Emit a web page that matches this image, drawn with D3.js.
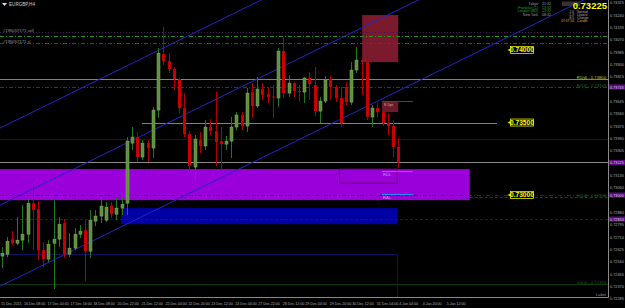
<!DOCTYPE html>
<html>
<head>
<meta charset="utf-8">
<script src="https://cdn.jsdelivr.net/npm/d3@7"></script>
<style>
  body { margin: 0; background: #000; }
  svg { display: block; font-family: "Liberation Sans", Arial, sans-serif; }
</style>
</head>
<body>
<svg id="chart"></svg>
<script>
// EURGBP H4 candles
const open = [0.72579,0.72592,0.72696,0.72668,0.72689,0.72730,0.72944,0.72903,0.72620,0.72558,
  0.72668,0.72696,0.72806,0.72592,0.72634,0.72730,0.72758,0.72613,0.72820,0.72855,
  0.72827,0.72924,0.72868,0.72910,0.72944,0.73358,0.73400,0.73262,0.73358,0.73324,
  0.73586,0.73972,0.73924,0.73869,0.73800,0.73600,0.73420,0.73193,0.73379,0.73338,
  0.73469,0.73441,0.73372,0.73351,0.73372,0.73469,0.73552,0.73476,0.73710,0.73614,
  0.73731,0.73696,0.73679,0.73669,0.73993,0.73703,0.73772,0.73717,0.73710,0.73807,
  0.73759,0.73579,0.73648,0.73800,0.73745,0.73669,0.73745,0.73641,0.73862,0.73931,
  0.73917,0.73538,0.73600,0.73572,0.73496,0.73476,0.73331];
const high = [0.72641,0.72710,0.72751,0.72848,0.72931,0.72972,0.73069,0.72958,0.72675,0.72689,
  0.72965,0.72848,0.72834,0.72737,0.72772,0.72793,0.72827,0.72896,0.72896,0.72986,
  0.72951,0.72951,0.72979,0.72986,0.73400,0.73469,0.73434,0.73379,0.73379,0.73607,
  0.74014,0.74159,0.73979,0.73883,0.73807,0.73703,0.73441,0.73414,0.73434,0.73517,
  0.73524,0.73710,0.73469,0.73407,0.73538,0.73572,0.73572,0.73738,0.73772,0.73814,
  0.73772,0.73745,0.73759,0.74014,0.74083,0.73828,0.73779,0.73759,0.73814,0.73848,
  0.73883,0.73676,0.73821,0.73821,0.73759,0.73745,0.73779,0.73917,0.74021,0.73938,
  0.73979,0.73621,0.73634,0.73641,0.73565,0.73517,0.73393];
const low = [0.72496,0.72572,0.72655,0.72655,0.72620,0.72668,0.72620,0.72551,0.72503,0.72537,
  0.72351,0.72641,0.72565,0.72572,0.72620,0.72703,0.72406,0.72565,0.72786,0.72806,
  0.72813,0.72841,0.72827,0.72862,0.72862,0.73310,0.73227,0.73241,0.73227,0.73255,
  0.73531,0.73897,0.73841,0.73724,0.73565,0.73400,0.73158,0.73103,0.73289,0.73310,
  0.73414,0.73200,0.73172,0.73310,0.73255,0.73448,0.73448,0.73434,0.73531,0.73600,
  0.73655,0.73634,0.73531,0.73607,0.73669,0.73676,0.73676,0.73641,0.73634,0.73655,
  0.73545,0.73496,0.73634,0.73655,0.73641,0.73469,0.73621,0.73621,0.73841,0.73690,
  0.73517,0.73469,0.73538,0.73476,0.73414,0.73262,0.73186];
const close = [0.72599,0.72682,0.72668,0.72689,0.72730,0.72944,0.72896,0.72620,0.72558,0.72661,
  0.72696,0.72799,0.72592,0.72634,0.72730,0.72751,0.72613,0.72827,0.72855,0.72924,
  0.72917,0.72868,0.72910,0.72937,0.73372,0.73400,0.73262,0.73358,0.73324,0.73586,
  0.73979,0.73924,0.73869,0.73800,0.73600,0.73420,0.73200,0.73386,0.73338,0.73469,
  0.73441,0.73365,0.73351,0.73372,0.73469,0.73552,0.73476,0.73703,0.73614,0.73731,
  0.73690,0.73676,0.73672,0.73993,0.73703,0.73772,0.73717,0.73710,0.73807,0.73765,
  0.73579,0.73648,0.73793,0.73745,0.73669,0.73496,0.73641,0.73862,0.73931,0.73917,
  0.73538,0.73600,0.73572,0.73496,0.73476,0.73331,0.73225];

// axis labels
const priceTicks = [0.74325,0.74240,0.74155,0.74070,0.73985,0.73900,0.73815,0.73730,0.73645,
  0.73560,0.73475,0.73390,0.73305,0.73220,0.73135,0.73050,0.72965,0.72880,0.72795,0.72710,
  0.72625,0.72540,0.72455,0.72370,0.72285];
const timeLabels = ["15 Dec 2015","16 Dec 08:00","17 Dec 00:00","17 Dec 16:00","18 Dec 08:00",
  "20 Dec 22:00","21 Dec 12:00","22 Dec 04:00","22 Dec 20:00","23 Dec 12:00","24 Dec 04:00",
  "27 Dec 22:00","28 Dec 12:00","29 Dec 04:00","29 Dec 20:00","30 Dec 12:00","31 Dec 04:00",
  "4 Jan 04:00","4 Jan 20:00","5 Jan 12:00"];
const timeTickBars = [0,4.4,8.9,13.3,17.7,22.3,26.9,31.5,35.9,40.3,44.9,49.3,54,58.3,63,67.3,72,76.3,80.8,85.4];

// objects on the chart (bar index / price)
const channelStart = [0.73467, 0.72935, 0.72376];   // at bar 0
const channelEnd = [0.74808, 0.74277, 0.73718];     // at bar 76
const orderLevels = [0.74124, 0.74097, 0.74048];
const orderLabels = ["#195057171 sell", "#195057171 sl"];
const roundLevels = [0.74000, 0.73500, 0.73000];
const pivotLevels = [0.73800, 0.73745, 0.72986, 0.72385];
const pivotLabels = ["R1(d) - 0.73800", "R2(4) - 0.73745", "S1(d) - 0.72990", "S3(d) - 0.72390"];
const markedLevels = [0.73745, 0.73225, 0.73000, 0.72834];
const bid = 0.73225;
const purpleZone = [0.73179, 0.72965];
const blueZone = [0.72910, 0.72799];
const redZone = [0.74241, 0.73917];
const smallRedZone = [0.73648, 0.73572];
const innerZone = [0.73179, 0.73082];
const zoneLines = [0.73165, 0.73006];
const zoneLabels = ["RDL", "RAL"];

const W = 625, H = 308, PR = 608, PB = 297;
const svg = d3.select("#chart").attr("width", W).attr("height", H);
svg.append("rect").attr("width", W).attr("height", H).attr("fill", "#000");

const x = d3.scaleLinear().domain([0, 76]).range([1.5, 398.2]);
const y = d3.scaleLinear().domain([0.72297, 0.74345]).range([PB, 0]);
const yc = p => Math.round(y(p)) + 0.5;

svg.append("defs").append("clipPath").attr("id", "plot")
  .append("rect").attr("width", PR).attr("height", PB);
const plot = svg.append("g").attr("clip-path", "url(#plot)");

function zone(pr, b0, b1, fill) {
  const x0 = b0 == null ? 0 : x(b0), x1 = b1 == null ? PR : x(b1);
  return plot.append("rect")
    .attr("x", x0).attr("width", x1 - x0)
    .attr("y", y(pr[0])).attr("height", y(pr[1]) - y(pr[0]))
    .attr("fill", fill);
}
function hline(p, b0, b1, color, dash) {
  return plot.append("line")
    .attr("x1", b0 == null ? 0 : x(b0)).attr("x2", b1 == null ? PR : x(b1))
    .attr("y1", yc(p)).attr("y2", yc(p))
    .attr("stroke", color).attr("stroke-width", 1)
    .attr("stroke-dasharray", dash || null);
}

// zones
zone(purpleZone, -2, 89.7, "#9a00da");
zone(innerZone, 64.8, 75.8, "none").attr("stroke", "#6a0a70").attr("stroke-width", 1);
zone(blueZone, 22.9, 75.8, "#0000a4");
zone(redZone, 69.1, 76, "#7a1a2c");
zone(smallRedZone, 72.9, 76, "#6a1a28");
hline(smallRedZone[0], 72.9, 78.8, "#a02030");

// horizontal levels
hline(orderLevels[0], null, null, "#4a1460", "1,2");
hline(orderLevels[1], null, null, "#1f9a1f", "4,2,1,2");
hline(orderLevels[2], null, null, "#c01010", "4,2,1,2");
hline(pivotLevels[0], null, null, "#8c8c28");
hline(pivotLevels[1], null, null, "#1c4a1c", "4,2,1,2");
hline(roundLevels[1], 26.9, 94.9, "#8c8c28");
hline(0.73386, null, null, "#16163c");
hline(bid, null, null, "#8a8a8a");
hline(roundLevels[2], null, null, "#4a1260", "4,2,1,2");
hline(pivotLevels[2], 89.7, null, "#164a16", "3,2");
hline(markedLevels[3], null, null, "#3a0c4a", "3,2");
hline(0.72592, null, 75.8, "#101064");
hline(pivotLevels[3], null, null, "#0c380c");
plot.append("line")
  .attr("x1", Math.round(x(75.8)) + 0.5).attr("x2", Math.round(x(75.8)) + 0.5)
  .attr("y1", yc(0.72592)).attr("y2", PB).attr("stroke", "#101064");

// zone lines and tags
zoneLines.forEach((p, k) => {
  hline(p, 72.9, 78.8, "#2f8cff");
  plot.append("text").attr("x", x(73.1)).attr("y", yc(p) + 4.5)
    .attr("font-size", 4.2).attr("fill", "#c49ae0").text(zoneLabels[k]);
});
plot.append("text").attr("x", x(73.3)).attr("y", y(smallRedZone[0]) + 4.5)
  .attr("font-size", 4).attr("fill", "#c8b0b0").text("8.5pt");

// channel
channelStart.forEach((p0, k) => {
  const x0 = x(0), y0 = y(p0), x1 = x(76), y1 = y(channelEnd[k]);
  const s = (y1 - y0) / (x1 - x0);
  plot.append("line")
    .attr("x1", 0).attr("y1", y0 - s * x0)
    .attr("x2", PR).attr("y2", y0 + s * (PR - x0))
    .attr("stroke", "#2424c8").attr("stroke-width", 1);
});

// candles
const bars = d3.range(open.length).map(i => ({ i, o: open[i], h: high[i], l: low[i], c: close[i] }));
const cg = plot.append("g");
cg.selectAll("line").data(bars).join("line")
  .attr("x1", d => Math.round(x(d.i)) + 0.5).attr("x2", d => Math.round(x(d.i)) + 0.5)
  .attr("y1", d => y(d.h)).attr("y2", d => y(d.l))
  .attr("stroke", d => d.c >= d.o ? "#1f7a1f" : "#b00000");
cg.selectAll("rect").data(bars).join("rect")
  .attr("x", d => Math.round(x(d.i)) - 1).attr("width", 3)
  .attr("y", d => y(Math.max(d.o, d.c)))
  .attr("height", d => Math.max(1, Math.abs(y(d.o) - y(d.c))))
  .attr("fill", d => d.c >= d.o ? "#5e8f3c" : "#c80000")
  .attr("stroke", d => d.c >= d.o ? "#86b060" : "none").attr("stroke-width", 0.5);

// round number tags
roundLevels.forEach(p => {
  const bx = x(97.5), by = y(p);
  svg.append("path").attr("d", `M${bx - 3},${by} L${bx},${by - 1.5} L${bx},${by + 1.5} Z`).attr("fill", "#e8e800");
  svg.append("rect").attr("x", bx).attr("y", by - 3.5).attr("width", 23).attr("height", 7)
    .attr("fill", "#000").attr("stroke", "#e8e800").attr("stroke-width", 0.8);
  svg.append("text").attr("x", bx + 11.5).attr("y", by + 2.4).attr("text-anchor", "middle")
    .attr("font-size", 6.6).attr("font-weight", "bold").attr("fill", "#ffff00").text(p.toFixed(5));
});

// pivot labels
const pivotColors = ["#c8c030", "#2a6a2a", "#1e5a1e", "#1e5a1e"];
pivotLevels.forEach((p, k) => {
  svg.append("text").attr("x", 606).attr("y", yc(p) - 0.8).attr("text-anchor", "end")
    .attr("font-size", 4.2).attr("fill", pivotColors[k]).text(pivotLabels[k]);
});
svg.append("text").attr("x", 606).attr("y", PB - 1.5).attr("text-anchor", "end")
  .attr("font-size", 4.2).attr("fill", "#8a8aa0").text("Label");

// order labels
orderLabels.forEach((t, k) => {
  svg.append("text").attr("x", 3).attr("y", yc(orderLevels[k * 2]) - 0.5)
    .attr("font-size", 4.2).attr("fill", "#9a9a9a").text(t);
});

// frame
svg.append("path").attr("d", `M0,${PB + 0.5} H${PR + 0.5} V0`).attr("fill", "none")
  .attr("stroke", "#8a8a8a").attr("stroke-width", 1);

// price axis (marked levels sit on top of the plain ticks)
const freeTicks = priceTicks.filter(t => markedLevels.every(m => Math.abs(y(t) - y(m)) > 5.5));
svg.append("g").selectAll("text").data(freeTicks).join("text")
  .attr("x", 610).attr("y", d => y(d) + 1.5)
  .attr("font-size", 4.2).attr("textLength", 13.8).attr("lengthAdjust", "spacingAndGlyphs")
  .attr("fill", "#b0b0b0").text(d => d.toFixed(5));
markedLevels.forEach(p => {
  svg.append("rect").attr("x", 609).attr("y", y(p) - 2.6).attr("width", 16).attr("height", 5.2).attr("fill", "#5c0c7c");
  svg.append("text").attr("x", 610).attr("y", y(p) + 1.5)
    .attr("font-size", 4.2).attr("textLength", 13.8).attr("lengthAdjust", "spacingAndGlyphs")
    .attr("fill", "#d8c8e8").text(p.toFixed(5));
});

// time axis
svg.append("g").selectAll("text").data(timeLabels).join("text")
  .attr("x", (d, k) => x(timeTickBars[k]) - 0.5).attr("y", 305)
  .attr("font-size", 3.6).attr("fill", "#b0b0b0").text(d => d);

// header
svg.append("path").attr("d", "M2,3 L7,3 L4.5,6 Z").attr("fill", "#e0e0e0");
svg.append("text").attr("x", 9).attr("y", 6.3).attr("font-size", 4.6).attr("fill", "#d0d0d0").text("EURGBP,H4");

// session clock panel
const sessions = [["Tokyo", "21:32", "#a0a0a0"], ["Frankfurt (1)", "13:32", "#2aa02a"],
  ["London (BD)", "13:32", "#2aa02a"], ["New York", "08:32", "#9aa09a"]];
sessions.forEach((s, k) => {
  svg.append("text").attr("x", 538).attr("y", 5 + k * 3.6).attr("text-anchor", "end")
    .attr("font-size", 3.6).attr("fill", s[2]).text(s[0]);
  svg.append("text").attr("x", 542).attr("y", 5 + k * 3.6)
    .attr("font-size", 3.6).attr("fill", s[2]).text(s[1]);
});
svg.append("rect").attr("x", 562).attr("y", 1.5).attr("width", 18).attr("height", 4.5).attr("fill", "#333");
svg.append("text").attr("x", 607).attr("y", 8.5).attr("text-anchor", "end")
  .attr("font-size", 9.5).attr("font-weight", "bold").attr("fill", "#ffff00").text(bid.toFixed(5));
const info = [["2.0", "Spread", "#b0b0b0"], ["-1.3", "Lowest", "#b0b0b0"], ["-8.5", "Change", "#b0b0b0"], ["07:07:56", "Candle", "#e0a020"]];
info.forEach((r, k) => {
  svg.append("text").attr("x", 574).attr("y", 12.5 + k * 3.3).attr("text-anchor", "end")
    .attr("font-size", 3.3).attr("fill", r[2]).text(r[0]);
  svg.append("text").attr("x", 577).attr("y", 12.5 + k * 3.3)
    .attr("font-size", 3.3).attr("fill", r[2]).text(r[1]);
});
</script>
</body>
</html>
